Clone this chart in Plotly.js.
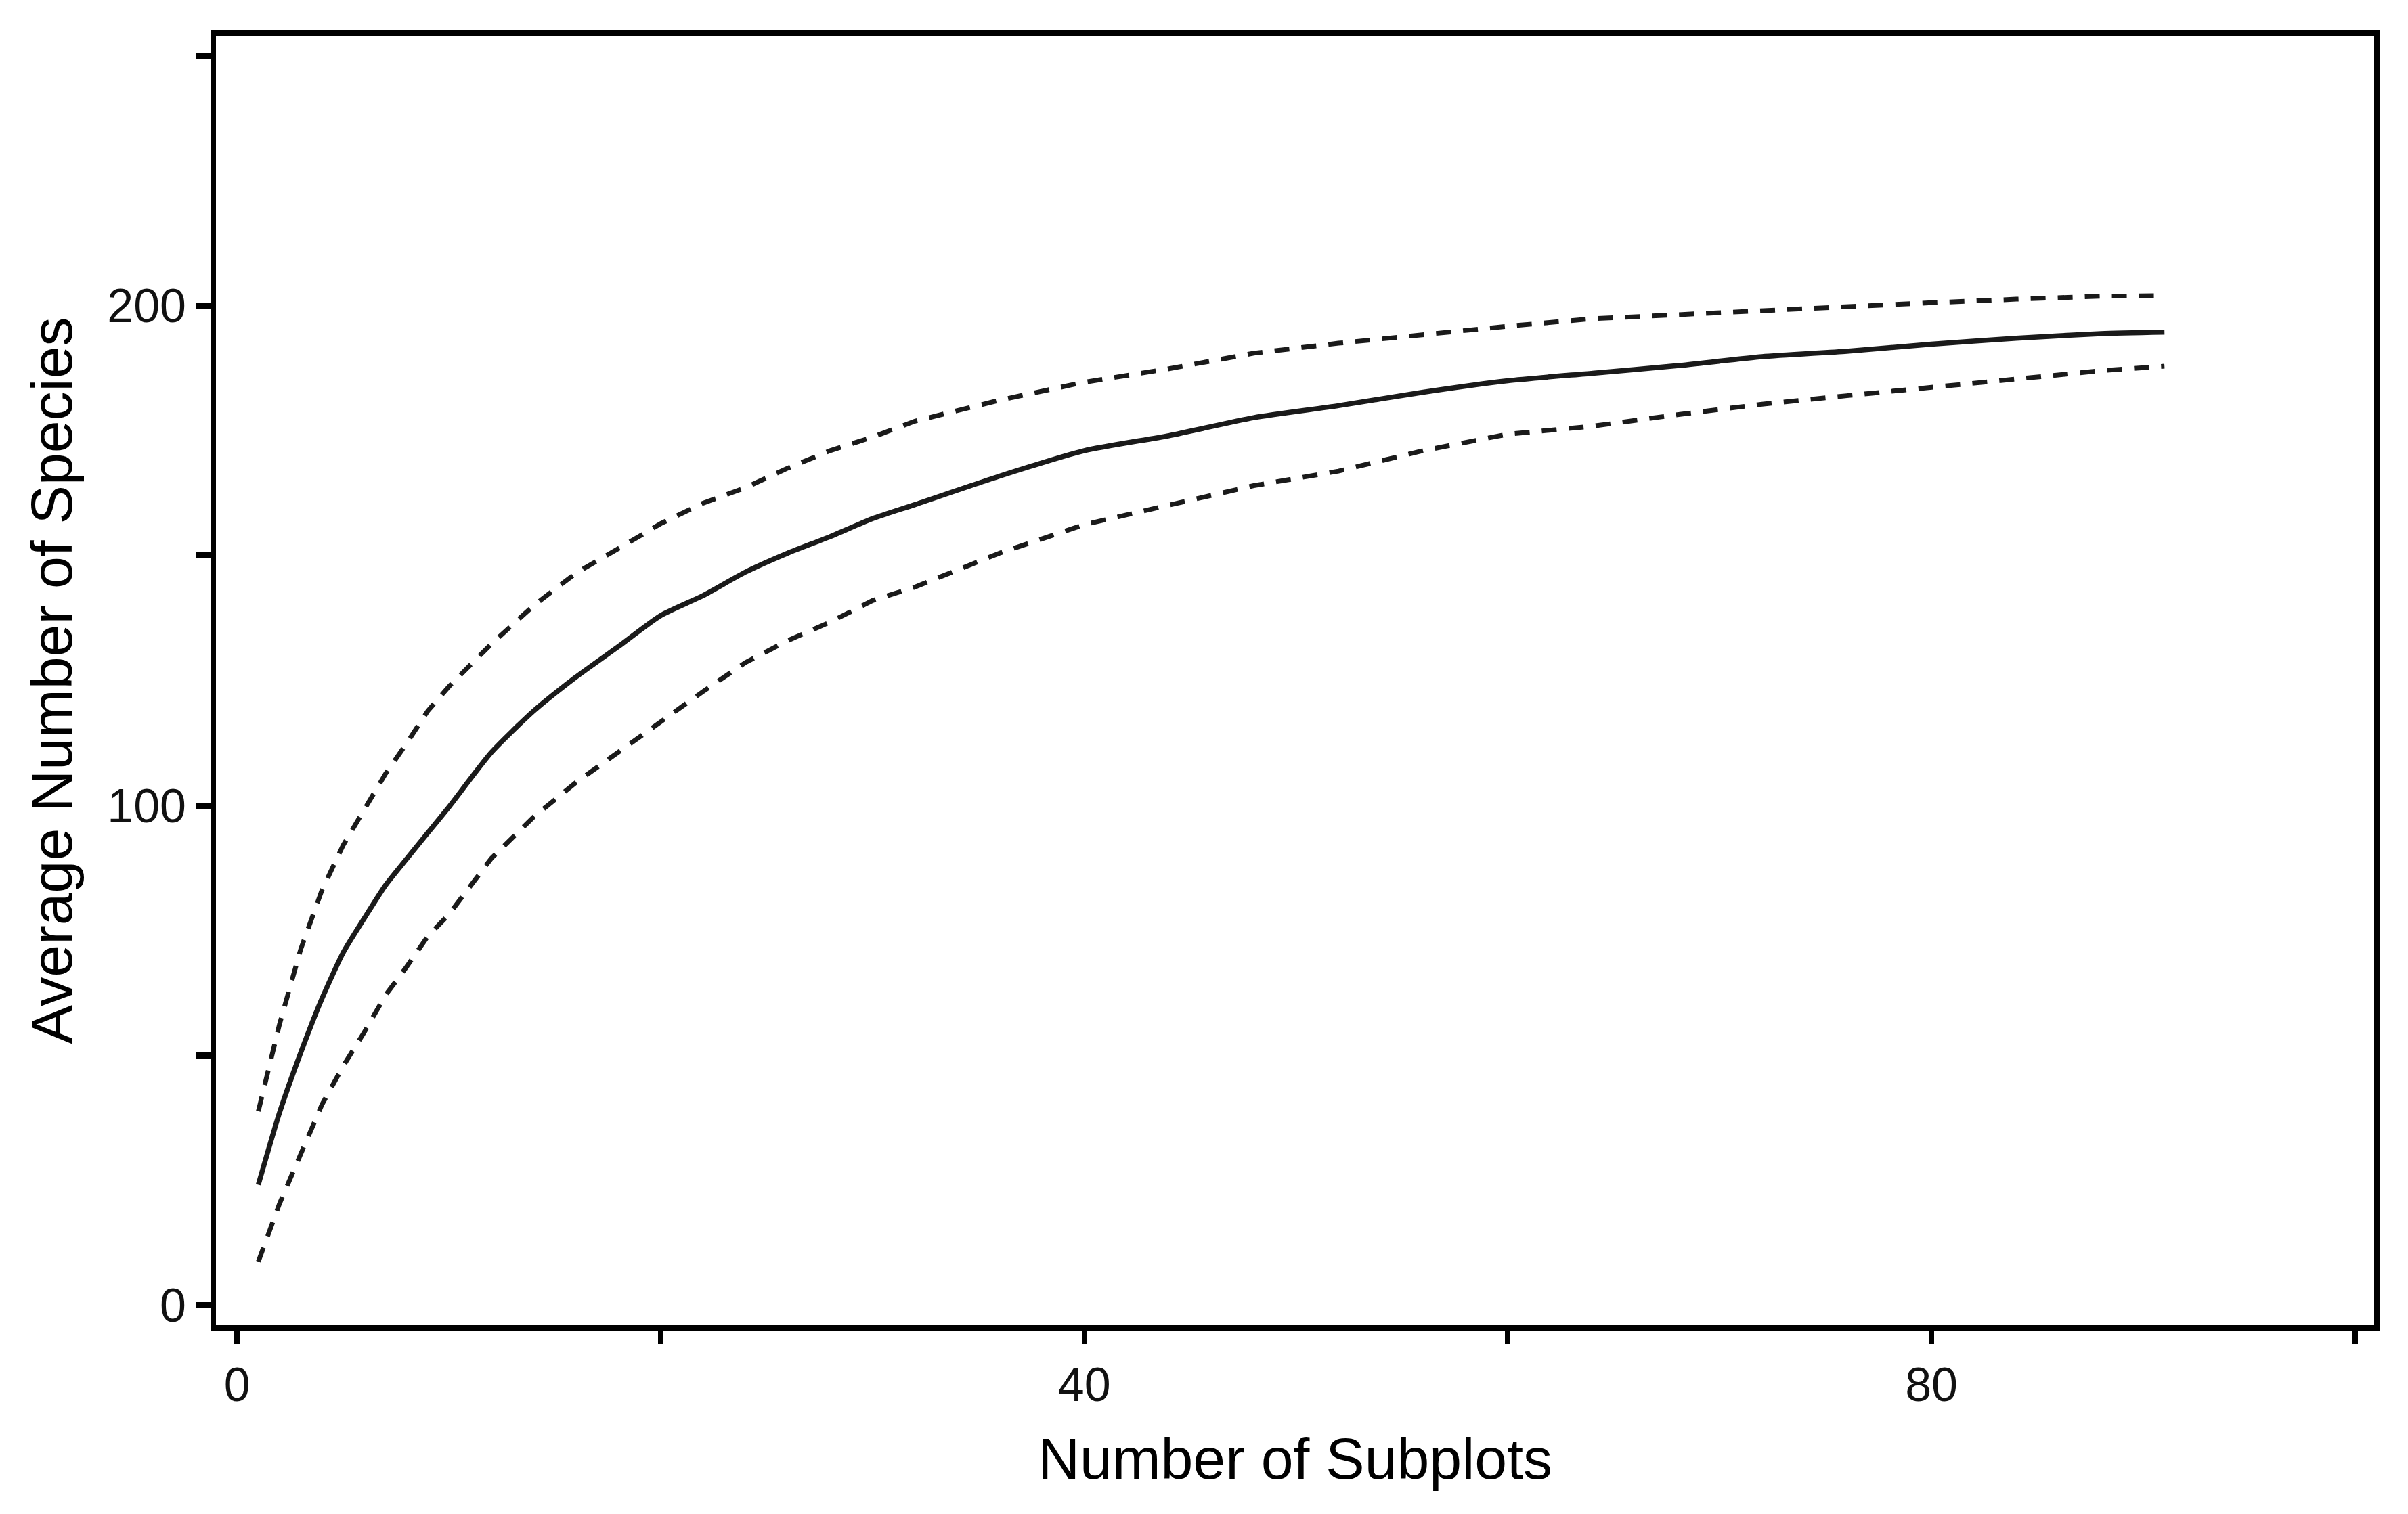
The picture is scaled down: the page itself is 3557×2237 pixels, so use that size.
<!DOCTYPE html>
<html>
<head>
<meta charset="utf-8">
<script src="https://cdn.plot.ly/plotly-3.0.1.min.js"></script>
<style>html,body{margin:0;padding:0;background:#fff;}#chart{width:3557px;height:2237px;}</style>
</head>
<body>
<div id="chart"></div>
<script>
// Number of subplots (x) at which values were read
const subplots = [1,2,3,4,5,6,7,8,9,10,12,14,16,18,20,22,24,26,28,30,32,36,40,44,48,52,56,60,64,68,72,76,80,84,88,91];
// Average number of species (solid curve)
const meanSpecies = [24.1,38.5,50.5,61.3,70.5,77.4,84.0,89.3,94.5,99.7,110.6,118.9,125.7,131.8,138.0,142.0,146.7,150.5,153.8,157.4,160.2,165.9,171.0,174.0,177.6,180.0,182.7,185.0,186.5,188.0,189.8,190.9,192.3,193.5,194.4,194.7];
// Upper bound (dashed)
const upperSpecies = [38.8,56.2,71.2,83.0,92.0,99.2,106.3,112.4,118.9,123.8,132.3,140.0,146.5,151.4,156.4,160.5,163.6,167.5,171.0,173.7,176.9,181.1,184.7,187.4,190.5,192.5,194.3,195.9,197.4,198.2,199.1,200.0,200.6,201.3,201.9,202.0];
// Lower bound (dashed)
const lowerSpecies = [8.7,20.3,30.2,40.1,47.8,54.6,62.0,67.7,73.8,78.2,89.4,97.7,104.6,110.7,116.9,122.8,128.6,133.0,136.7,141.0,143.7,150.5,156.2,160.2,164.0,166.9,171.0,174.3,175.9,178.2,180.3,182.0,183.7,185.5,187.0,187.9];

const xTickVals = [0,20,40,60,80,100];
const xTickText = ['0','','40','','80',''];
const yTickVals = [0,50,100,150,200,250];
const yTickText = ['0','','100','','200',''];

const lineColor = '#1a1a1a';
const traces = [
  {x: subplots, y: upperSpecies, mode: 'lines', line: {color: lineColor, width: 7, dash: '22px,18px'}, hoverinfo: 'skip'},
  {x: subplots, y: lowerSpecies, mode: 'lines', line: {color: lineColor, width: 7, dash: '22px,18px'}, hoverinfo: 'skip'},
  {x: subplots, y: meanSpecies, mode: 'lines', line: {color: lineColor, width: 7.5, shape: 'spline', smoothing: 0.6}, hoverinfo: 'skip'}
];

const tickFont = {family: 'Liberation Sans, Arial, sans-serif', size: 70, color: '#111'};
const titleFont = {family: 'Liberation Sans, Arial, sans-serif', size: 86, color: '#000'};

const layout = {
  width: 3557, height: 2237,
  paper_bgcolor: '#fff', plot_bgcolor: '#fff',
  showlegend: false,
  margin: {l: 319, r: 50, t: 53, b: 279, pad: 0},
  xaxis: {
    range: [-1, 100.9], tickmode: 'array', tickvals: xTickVals, ticktext: xTickText,
    ticks: 'outside', ticklen: 20, tickwidth: 8, tickcolor: '#000',
    showline: true, linewidth: 8, linecolor: '#000', mirror: true,
    showgrid: false, zeroline: false, tickfont: tickFont,
    title: {text: 'Number of Subplots', font: titleFont, standoff: 44}
  },
  yaxis: {
    range: [-4, 254], tickmode: 'array', tickvals: yTickVals, ticktext: yTickText,
    ticks: 'outside', ticklen: 22, tickwidth: 9, tickcolor: '#000',
    showline: true, linewidth: 8, linecolor: '#000', mirror: true,
    showgrid: false, zeroline: false, tickfont: tickFont,
    title: {text: 'Average Number of Species', font: titleFont, standoff: 26}
  }
};

Plotly.newPlot('chart', traces, layout, {staticPlot: true, displayModeBar: false});
</script>
</body>
</html>
